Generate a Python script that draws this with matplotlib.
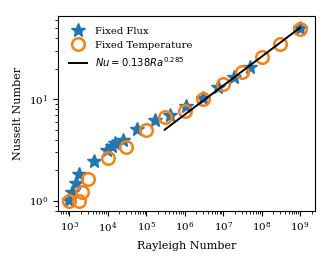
import numpy as np
import matplotlib
matplotlib.use('Agg')
import matplotlib.pyplot as plt
from matplotlib.ticker import LogLocator

plt.rcParams['font.family'] = 'serif'
plt.rcParams['font.size'] = 7.5

# fixed flux runs
ra_flux = [1.0e3, 1.2e3, 1.5e3, 1.8e3, 4.4e3, 9.7e3, 1.3e4, 1.5e4, 2.5e4,
           5.6e4, 1.7e5, 4.2e5, 1.1e6, 2.9e6, 7.5e6, 1.9e7, 4.9e7, 1.0e9]
nu_flux = [1.02, 1.23, 1.5, 1.85, 2.5, 3.2, 3.45, 3.7, 4.0,
           5.1, 6.2, 7.0, 8.6, 10.4, 13.1, 16.4, 20.8, 50.0]

# fixed temperature runs
ra_temp = [1.0e3, 1.8e3, 2.1e3, 3.1e3, 1.0e4, 3.0e4, 1.0e5, 3.1e5,
           1.0e6, 3.0e6, 1.0e7, 3.0e7, 1.0e8, 3.0e8, 1.0e9]
nu_temp = [1.0, 1.0, 1.22, 1.65, 2.65, 3.42, 5.0, 6.75,
           7.7, 10.0, 14.2, 18.7, 25.9, 34.8, 48.8]

# power law fit
fit_a = 0.138
fit_b = 0.285
ra_fit = np.array([3.0e5, 1.0e9])

fig = plt.figure(figsize=(3.3, 2.65), dpi=100)
ax = fig.add_axes([0.176, 0.204, 0.779, 0.736])

ax.plot(ra_flux, nu_flux, '*', color='C0', ms=10, label='Fixed Flux')
ax.plot(ra_temp, nu_temp, 'o', mfc='none', mec='C1', mew=1.8, ms=9,
        label='Fixed Temperature')
ax.plot(ra_fit, fit_a * ra_fit**fit_b, 'k-', lw=1.4,
        label=r'$Nu = 0.138Ra^{0.285}$')

ax.set_xscale('log')
ax.set_yscale('log')
ax.set_xlim(10**2.705, 10**9.39)
ax.set_ylim(10**-0.098, 10**1.82)
ax.xaxis.set_major_locator(LogLocator(base=10, numticks=15))
ax.xaxis.set_minor_locator(LogLocator(base=10, subs=np.arange(2, 10), numticks=15))
ax.tick_params(which='major', length=3.5, width=0.8)
ax.tick_params(which='minor', length=2, width=0.6)
ax.set_xlabel('Rayleigh Number', fontsize=8)
ax.set_ylabel('Nusselt Number', fontsize=8)
ax.legend(loc='upper left', frameon=False, fontsize=7.2, labelspacing=0.5,
          handletextpad=0.8, handlelength=1.8, borderaxespad=0.7)

fig.savefig('out.png', dpi=100)
